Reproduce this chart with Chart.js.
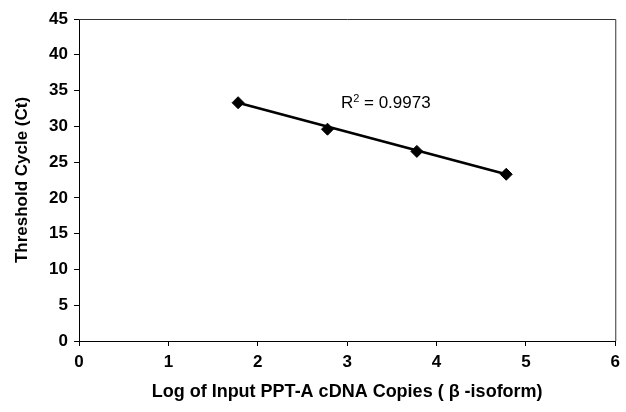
<!DOCTYPE html>
<html>
<head>
<meta charset="utf-8">
<script src="https://cdn.jsdelivr.net/npm/chart.js@4/dist/chart.umd.min.js"></script>
<style>
    html, body { margin: 0; padding: 0; background: #fff; }
    #wrap { width: 626px; height: 412px; }
</style>
</head>
<body>
<div id="wrap"><canvas id="chart" width="626" height="412"></canvas></div>
<script>
// values
const logCopies = [1.78, 2.78, 3.78, 4.78];
const thresholdCycle = [33.3, 29.6, 26.5, 23.3];
// trendline end points as drawn in the picture
const trendX = [1.78, 4.78];
const trendY = [33.3, 23.3];
const xTicks = [0, 1, 2, 3, 4, 5, 6];
const yTicks = [0, 5, 10, 15, 20, 25, 30, 35, 40, 45];
const rSquaredText = "0.9973";

const FONT = "'Liberation Sans', Arial, sans-serif";
Chart.defaults.font.family = FONT;
Chart.defaults.font.weight = "bold";
Chart.defaults.font.size = 17;
Chart.defaults.color = "#000";

const frame = {
    id: "frame",
    afterDraw(chart) {
        const { ctx, chartArea: a } = chart;
        ctx.save();
        ctx.strokeStyle = "#333";
        ctx.lineWidth = 1;
        ctx.beginPath();
        ctx.moveTo(a.left, a.top + 0.5);
        ctx.lineTo(a.right + 0.5, a.top + 0.5);
        ctx.lineTo(a.right + 0.5, a.bottom);
        ctx.stroke();

        // R² label
        const x = chart.scales.x.getPixelForValue(2.93);
        const y = chart.scales.y.getPixelForValue(32.6);
        ctx.fillStyle = "#000";
        ctx.textBaseline = "alphabetic";
        ctx.font = "normal 17px " + FONT;
        ctx.fillText("R", x, y);
        let w = ctx.measureText("R").width;
        ctx.font = "normal 11px " + FONT;
        ctx.fillText("2", x + w, y - 6);
        w += ctx.measureText("2").width;
        ctx.font = "normal 17px " + FONT;
        ctx.fillText(" = " + rSquaredText, x + w, y);
        ctx.restore();
    }
};

new Chart(document.getElementById("chart"), {
    type: "scatter",
    data: {
        datasets: [
            {
                label: "Trend",
                data: trendX.map((x, i) => ({ x, y: trendY[i] })),
                showLine: true,
                borderColor: "#000",
                borderWidth: 2.5,
                pointRadius: 0
            },
            {
                label: "Ct",
                data: logCopies.map((x, i) => ({ x, y: thresholdCycle[i] })),
                pointStyle: "rectRot",
                pointRadius: 6,
                backgroundColor: "#000",
                borderColor: "#000"
            }
        ]
    },
    options: {
        responsive: false,
        animation: false,
        layout: { padding: { top: 19, right: 7, left: 0, bottom: 0 } },
        plugins: { legend: { display: false }, tooltip: { enabled: false } },
        scales: {
            x: {
                type: "linear",
                min: 0,
                max: 6,
                afterBuildTicks: (s) => { s.ticks = xTicks.map((v) => ({ value: v })); },
                afterFit: (s) => { s.height = 71; },
                grid: { drawOnChartArea: false, tickLength: 5, color: "#000" },
                border: { color: "#000", width: 1 },
                ticks: { padding: 6 },
                title: {
                    display: true,
                    text: "Log of Input PPT-A cDNA Copies ( β -isoform)",
                    padding: { top: 0, bottom: 9 },
                    font: { size: 18 }
                }
            },
            y: {
                min: 0,
                max: 45,
                afterBuildTicks: (s) => { s.ticks = yTicks.map((v) => ({ value: v })); },
                afterFit: (s) => { s.width = 79; },
                grid: { drawOnChartArea: false, tickLength: 5, color: "#000" },
                border: { color: "#000", width: 1 },
                ticks: { padding: 6 },
                title: {
                    display: true,
                    text: "Threshold Cycle (Ct)",
                    padding: { top: 12, bottom: 0 }
                }
            }
        }
    },
    plugins: [frame]
});
</script>
</body>
</html>
